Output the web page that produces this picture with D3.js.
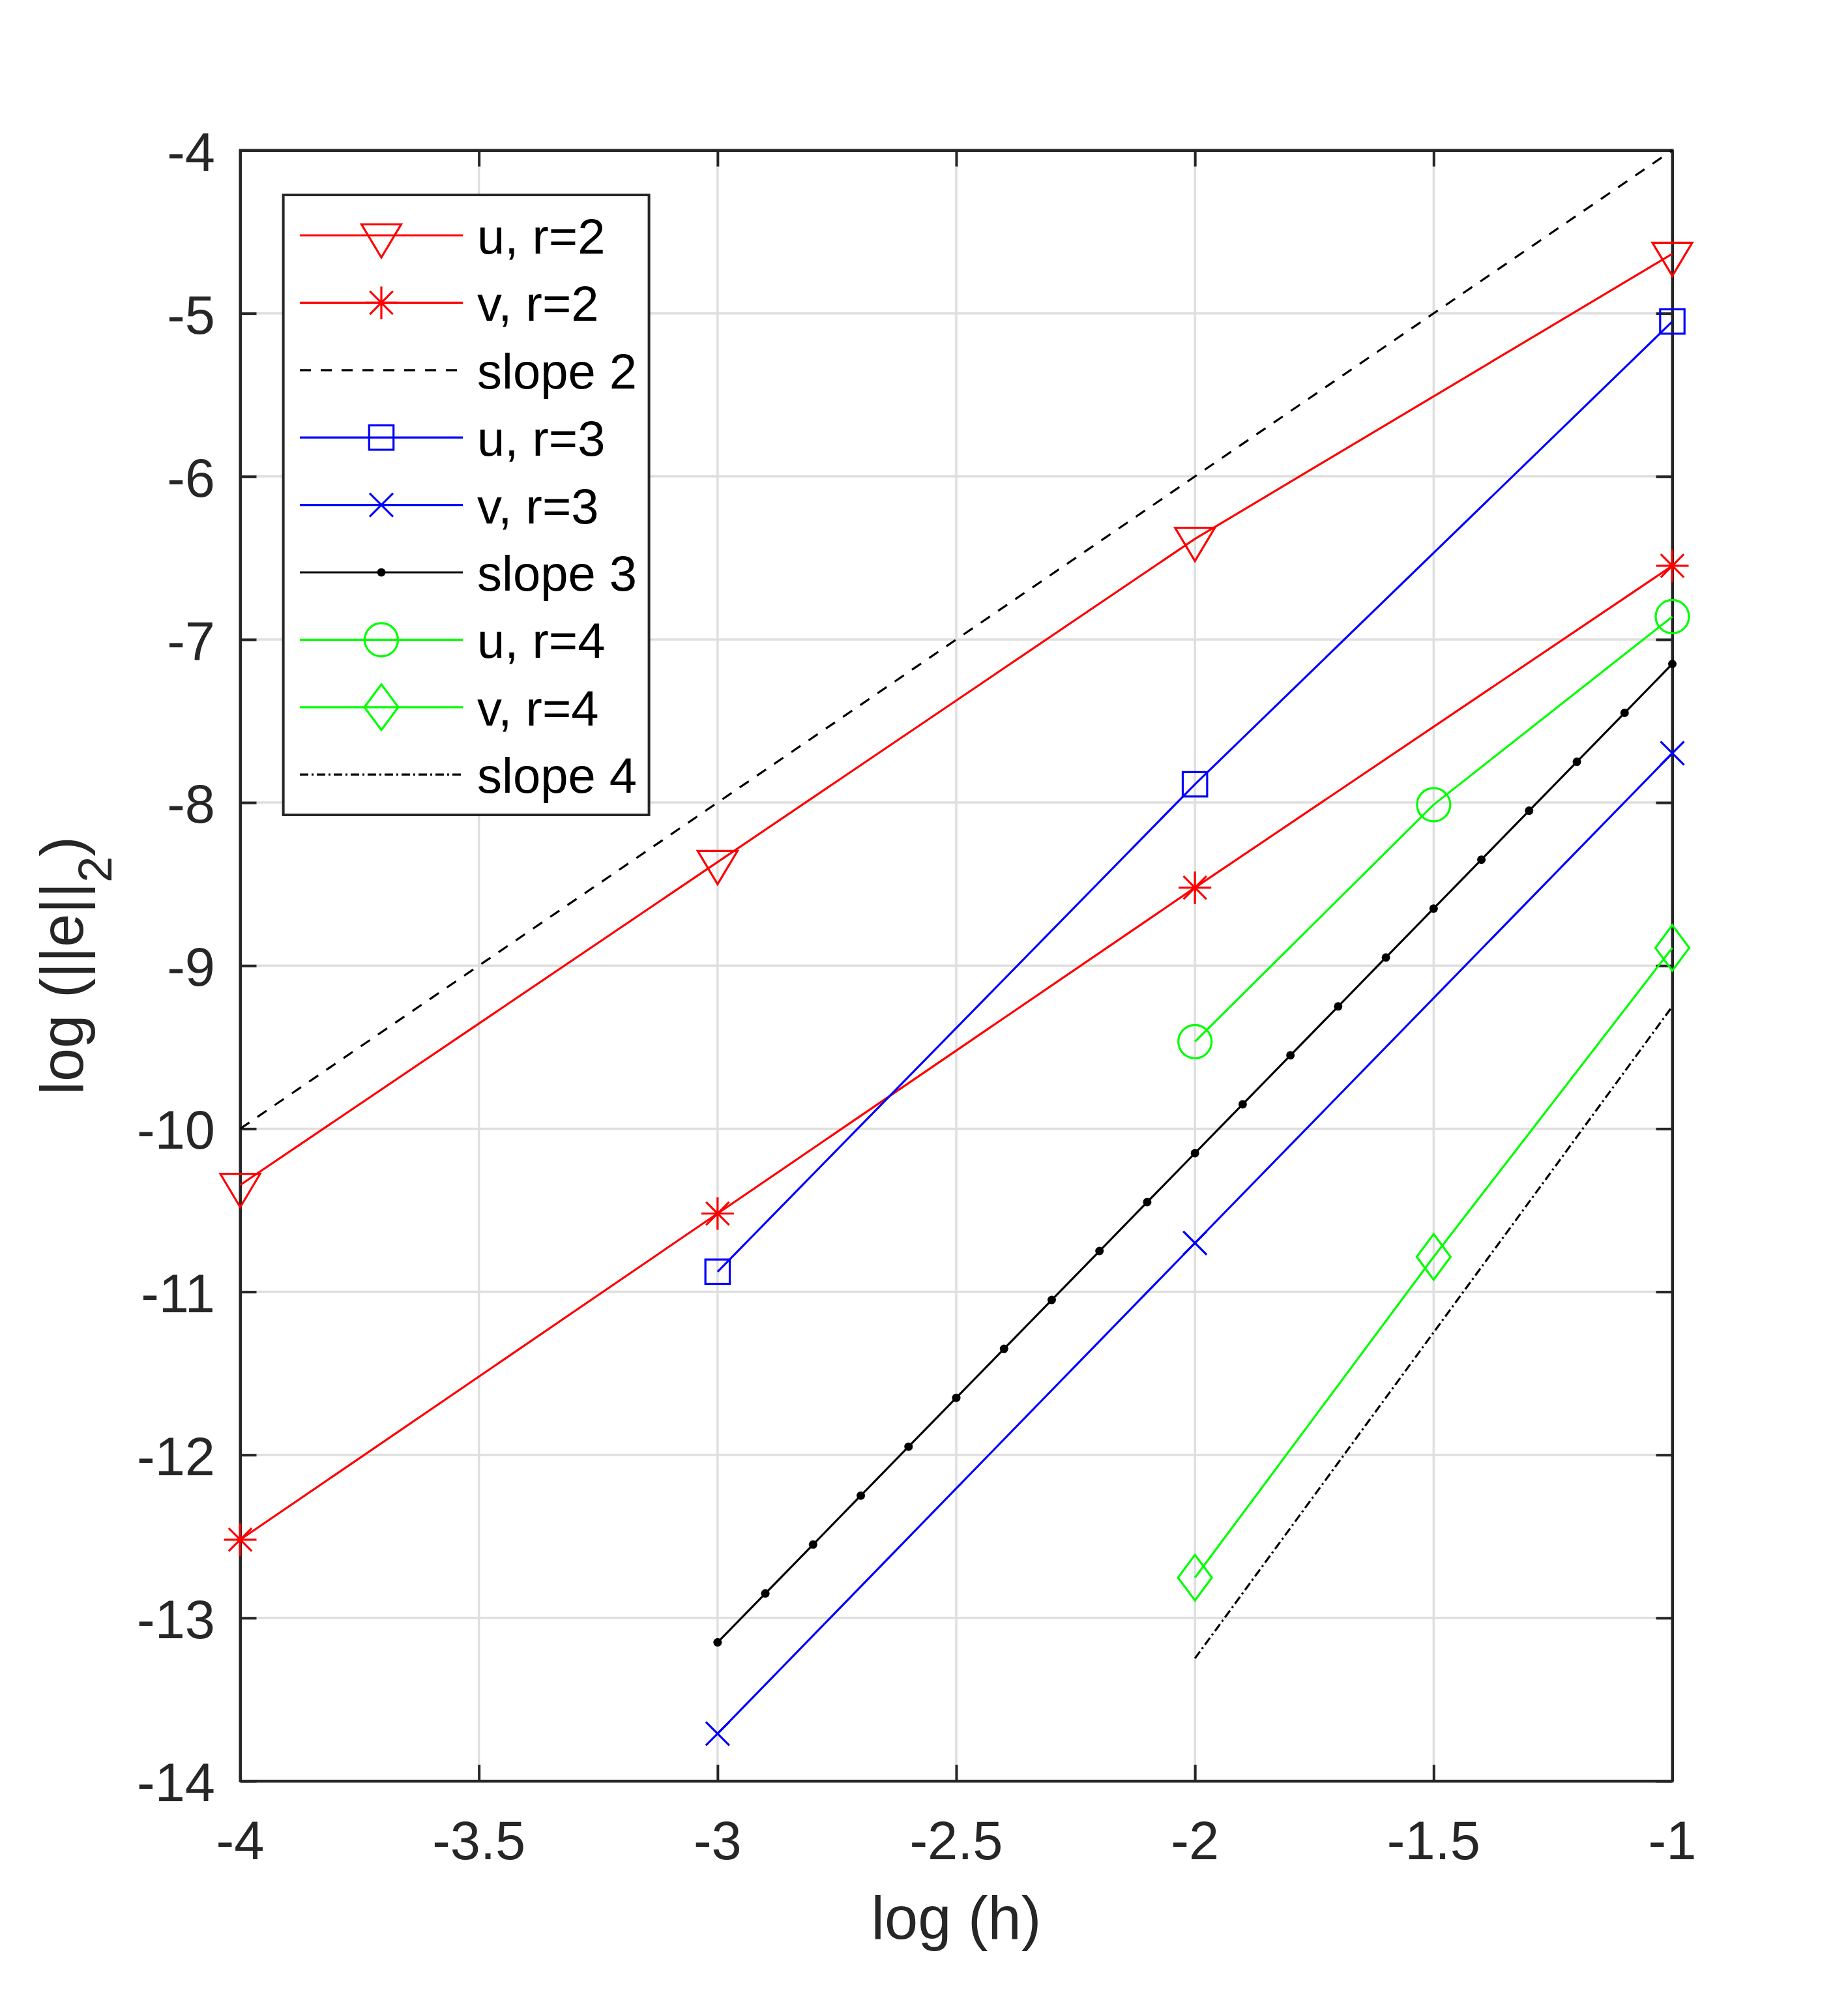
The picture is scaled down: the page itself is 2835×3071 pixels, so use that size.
<!DOCTYPE html>
<html>
<head>
<meta charset="utf-8">
<script src="https://cdn.jsdelivr.net/npm/d3@7"></script>
<style>
  body { margin: 0; background: #ffffff; }
  text { font-family: "Liberation Sans", Arial, Helvetica, sans-serif; }
</style>
</head>
<body>
<div id="chart"></div>
<script>
// values
var hR2 = [-4, -3, -2, -1];
var uR2 = [-10.345, -8.365, -6.383, -4.635];
var vR2 = [-12.52, -10.52, -8.522, -6.548];

var hSlope2 = [-4, -1];
var eSlope2 = [-10, -4];

var hR3 = [-3, -2, -1];
var uR3 = [-10.877, -7.888, -5.05];
var vR3 = [-13.71, -10.701, -7.697];

var hSlope3 = [-3, -2.9, -2.8, -2.7, -2.6, -2.5, -2.4, -2.3, -2.2, -2.1, -2,
               -1.9, -1.8, -1.7, -1.6, -1.5, -1.4, -1.3, -1.2, -1.1, -1];
var eSlope3 = [-13.15, -12.85, -12.55, -12.25, -11.95, -11.65, -11.35, -11.05, -10.75, -10.45, -10.15,
               -9.85, -9.55, -9.25, -8.95, -8.65, -8.35, -8.05, -7.75, -7.45, -7.15];

var hR4 = [-2, -1.5, -1];
var uR4 = [-9.466, -8.013, -6.86];
var vR4 = [-12.753, -10.786, -8.891];

var hSlope4 = [-2, -1];
var eSlope4 = [-13.248, -9.25];

var legendLabels = ["u, r=2", "v, r=2", "slope 2", "u, r=3", "v, r=3", "slope 3", "u, r=4", "v, r=4", "slope 4"];

var xTicks = [-4, -3.5, -3, -2.5, -2, -1.5, -1];
var yTicks = [-14, -13, -12, -11, -10, -9, -8, -7, -6, -5, -4];

var xTitle = "log (h)";

// series drawing styles (kept separate from the values)
var series = [
    {x: hR2, y: uR2, color: "#ff0000", marker: "v", dash: null},
    {x: hR2, y: vR2, color: "#ff0000", marker: "*", dash: null},
    {x: hSlope2, y: eSlope2, color: "#000000", marker: null, dash: "17 15"},
    {x: hR3, y: uR3, color: "#0000ff", marker: "s", dash: null},
    {x: hR3, y: vR3, color: "#0000ff", marker: "x", dash: null},
    {x: hSlope3, y: eSlope3, color: "#000000", marker: ".", dash: null},
    {x: hR4, y: uR4, color: "#00ff00", marker: "o", dash: null},
    {x: hR4, y: vR4, color: "#00ff00", marker: "d", dash: null},
    {x: hSlope4, y: eSlope4, color: "#000000", marker: null, dash: "13 5 3 5"}
];

var svgWidth = 2835;
var svgHeight = 3071;

var plot = {left: 368.5, right: 2565.5, top: 230.5, bottom: 2732};

var axisColor = "#262626";
var gridColor = "#dfdfdf";
var lineWidth = 3.2;
var tickLen = 25;

var svg = d3.select("#chart")
            .append("svg")
            .attr("width", svgWidth)
            .attr("height", svgHeight);

svg.append("rect")
   .attr("width", svgWidth)
   .attr("height", svgHeight)
   .attr("fill", "#ffffff");

var xScale = d3.scaleLinear()
               .domain([-4, -1])
               .range([plot.left, plot.right]);

var yScale = d3.scaleLinear()
               .domain([-14, -4])
               .range([plot.bottom, plot.top]);

// grid
var grid = svg.append("g");
grid.selectAll(".vgrid")
    .data(xTicks)
    .enter()
    .append("line")
    .attr("x1", d => xScale(d))
    .attr("x2", d => xScale(d))
    .attr("y1", plot.top)
    .attr("y2", plot.bottom)
    .attr("stroke", gridColor)
    .attr("stroke-width", 3.5);

grid.selectAll(".hgrid")
    .data(yTicks)
    .enter()
    .append("line")
    .attr("x1", plot.left)
    .attr("x2", plot.right)
    .attr("y1", d => yScale(d))
    .attr("y2", d => yScale(d))
    .attr("stroke", gridColor)
    .attr("stroke-width", 3.5);

// axes: ticks inward on all four sides
var fmt = d => String(d).replace("-", "-");

var bottomAxis = d3.axisBottom(xScale).tickValues(xTicks).tickSizeInner(-tickLen).tickSizeOuter(0).tickPadding(0).tickFormat("");
var topAxis = d3.axisTop(xScale).tickValues(xTicks).tickSizeInner(-tickLen).tickSizeOuter(0).tickFormat("");
var leftAxis = d3.axisLeft(yScale).tickValues(yTicks).tickSizeInner(-tickLen).tickSizeOuter(0).tickFormat("");
var rightAxis = d3.axisRight(yScale).tickValues(yTicks).tickSizeInner(-tickLen).tickSizeOuter(0).tickFormat("");

function styleAxis(g) {
    g.selectAll("path").attr("stroke", axisColor).attr("stroke-width", 4);
    g.selectAll("line").attr("stroke", axisColor).attr("stroke-width", 4);
}

svg.append("g").attr("transform", `translate(0, ${plot.bottom})`).call(bottomAxis).call(styleAxis);
svg.append("g").attr("transform", `translate(0, ${plot.top})`).call(topAxis).call(styleAxis);
svg.append("g").attr("transform", `translate(${plot.left}, 0)`).call(leftAxis).call(styleAxis);
svg.append("g").attr("transform", `translate(${plot.right}, 0)`).call(rightAxis).call(styleAxis);

svg.append("rect")
   .attr("x", plot.left)
   .attr("y", plot.top)
   .attr("width", plot.right - plot.left)
   .attr("height", plot.bottom - plot.top)
   .attr("fill", "none")
   .attr("stroke", axisColor)
   .attr("stroke-width", 4);

// tick labels
svg.append("g")
   .selectAll("text")
   .data(xTicks)
   .enter()
   .append("text")
   .attr("x", d => xScale(d))
   .attr("y", plot.bottom + 120)
   .attr("text-anchor", "middle")
   .attr("font-size", 83)
   .attr("fill", axisColor)
   .text(fmt);

svg.append("g")
   .selectAll("text")
   .data(yTicks)
   .enter()
   .append("text")
   .attr("x", 330)
   .attr("y", d => yScale(d) + 31)
   .attr("text-anchor", "end")
   .attr("font-size", 83)
   .attr("fill", axisColor)
   .text(fmt);

// axis titles
svg.append("text")
   .attr("x", (plot.left + plot.right) / 2)
   .attr("y", 2974)
   .attr("text-anchor", "middle")
   .attr("font-size", 92)
   .attr("fill", axisColor)
   .text(xTitle);

var yTitle = svg.append("text")
                .attr("transform", `translate(127, ${(plot.top + plot.bottom) / 2}) rotate(-90)`)
                .attr("text-anchor", "middle")
                .attr("font-size", 92)
                .attr("fill", axisColor);
yTitle.append("tspan").text("log (||e||");
yTitle.append("tspan").attr("font-size", 72).attr("dy", 44).text("2");
yTitle.append("tspan").attr("dy", -44).text(")");

// markers
function drawMarker(g, type, cx, cy, color) {
    var m = g.append("g").attr("transform", `translate(${cx}, ${cy})`);
    var sw = lineWidth;
    if (type === "v") {
        m.append("path").attr("d", "M-30.5,-17L30.5,-17L0,34Z")
         .attr("fill", "none").attr("stroke", color).attr("stroke-width", sw);
    } else if (type === "*") {
        m.append("path").attr("d", "M0,-25V25M-25,0H25M-17.7,-17.7L17.7,17.7M-17.7,17.7L17.7,-17.7")
         .attr("fill", "none").attr("stroke", color).attr("stroke-width", sw);
    } else if (type === "s") {
        m.append("rect").attr("x", -18.7).attr("y", -18.7).attr("width", 37.4).attr("height", 37.4)
         .attr("fill", "none").attr("stroke", color).attr("stroke-width", sw);
    } else if (type === "x") {
        m.append("path").attr("d", "M-18,-18L18,18M-18,18L18,-18")
         .attr("fill", "none").attr("stroke", color).attr("stroke-width", sw);
    } else if (type === ".") {
        m.append("circle").attr("r", 6.5).attr("fill", color);
    } else if (type === "o") {
        m.append("circle").attr("r", 25.5)
         .attr("fill", "none").attr("stroke", color).attr("stroke-width", sw);
    } else if (type === "d") {
        m.append("path").attr("d", "M0,-35L26,0L0,35L-26,0Z")
         .attr("fill", "none").attr("stroke", color).attr("stroke-width", sw);
    }
}

// data lines
var line = d3.line()
             .x(d => xScale(d[0]))
             .y(d => yScale(d[1]));

var dataGroup = svg.append("g");
series.forEach(function(s) {
    var pts = s.x.map((v, i) => [v, s.y[i]]);
    var g = dataGroup.append("g");
    g.append("path")
     .datum(pts)
     .attr("d", line)
     .attr("fill", "none")
     .attr("stroke", s.color)
     .attr("stroke-width", lineWidth)
     .attr("stroke-dasharray", s.dash);
    if (s.marker) {
        pts.forEach(function(p) {
            drawMarker(g, s.marker, xScale(p[0]), yScale(p[1]), s.color);
        });
    }
});

// legend
var legend = svg.append("g");
legend.append("rect")
      .attr("x", 434.6)
      .attr("y", 299)
      .attr("width", 561)
      .attr("height", 951)
      .attr("fill", "#ffffff")
      .attr("stroke", axisColor)
      .attr("stroke-width", 4);

legendLabels.forEach(function(label, i) {
    var s = series[i];
    var ry = 361 + i * 103.4;
    legend.append("line")
          .attr("x1", 460)
          .attr("x2", 710)
          .attr("y1", ry)
          .attr("y2", ry)
          .attr("stroke", s.color)
          .attr("stroke-width", lineWidth)
          .attr("stroke-dasharray", s.dash);
    if (s.marker) drawMarker(legend, s.marker, 585, ry, s.color);
    legend.append("text")
          .attr("x", 732)
          .attr("y", ry + 28)
          .attr("font-size", 76)
          .attr("fill", "#000000")
          .text(label);
});
</script>
</body>
</html>
